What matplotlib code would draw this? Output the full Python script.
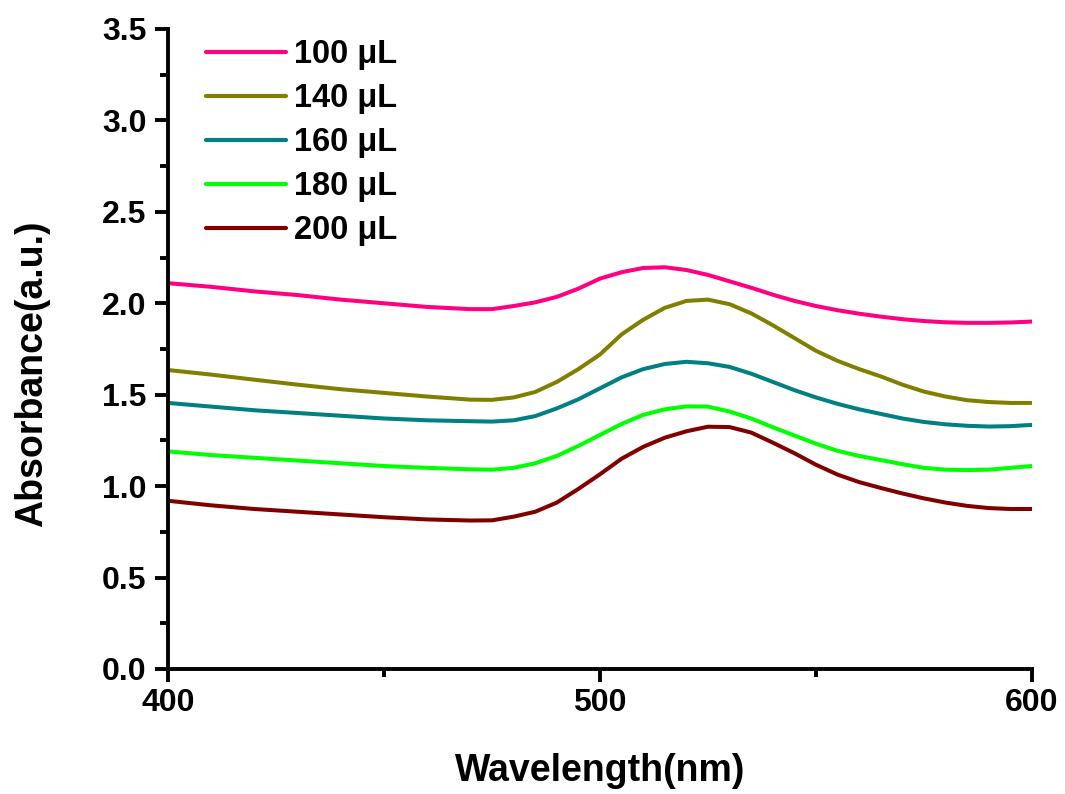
import matplotlib
matplotlib.use("Agg")
import matplotlib.pyplot as plt
from matplotlib.ticker import MultipleLocator, FormatStrFormatter

plt.rcParams['font.family'] = ['Liberation Sans', 'DejaVu Sans']
plt.rcParams['font.weight'] = 'bold'

wavelength = [400, 410, 420, 430, 440, 450, 460, 470, 475, 480, 485, 490, 495, 500,
              505, 510, 515, 520, 525, 530, 535, 540, 545, 550, 555, 560, 565, 570,
              575, 580, 585, 590, 595, 600]

abs_100 = [2.11, 2.09, 2.065, 2.045, 2.02, 2.00, 1.98, 1.968, 1.968, 1.985, 2.005, 2.035, 2.08, 2.135,
           2.17, 2.193, 2.197, 2.182, 2.155, 2.12, 2.085, 2.047, 2.013, 1.985, 1.962, 1.943, 1.927, 1.913,
           1.903, 1.896, 1.893, 1.893, 1.895, 1.90]
abs_140 = [1.635, 1.61, 1.582, 1.555, 1.53, 1.51, 1.49, 1.473, 1.472, 1.485, 1.515, 1.57, 1.64, 1.72,
           1.83, 1.91, 1.975, 2.013, 2.02, 1.995, 1.945, 1.88, 1.81, 1.74, 1.685, 1.64, 1.60, 1.555,
           1.517, 1.49, 1.47, 1.46, 1.455, 1.455]
abs_160 = [1.455, 1.435, 1.415, 1.40, 1.385, 1.37, 1.36, 1.355, 1.353, 1.36, 1.383, 1.425, 1.475, 1.535,
           1.595, 1.64, 1.668, 1.68, 1.672, 1.652, 1.615, 1.57, 1.525, 1.485, 1.45, 1.42, 1.395, 1.37,
           1.351, 1.338, 1.33, 1.326, 1.328, 1.335]
abs_180 = [1.19, 1.17, 1.155, 1.14, 1.125, 1.11, 1.10, 1.092, 1.09, 1.10, 1.125, 1.165, 1.22, 1.28,
           1.34, 1.39, 1.42, 1.436, 1.435, 1.408, 1.37, 1.322, 1.277, 1.232, 1.193, 1.165, 1.143, 1.12,
           1.10, 1.09, 1.088, 1.09, 1.10, 1.11]
abs_200 = [0.92, 0.895, 0.875, 0.86, 0.845, 0.83, 0.818, 0.812, 0.813, 0.833, 0.86, 0.91, 0.985, 1.065,
           1.15, 1.215, 1.265, 1.30, 1.325, 1.323, 1.293, 1.238, 1.18, 1.117, 1.063, 1.022, 0.99, 0.96,
           0.933, 0.91, 0.892, 0.88, 0.875, 0.875]

labels = ['100 μL', '140 μL', '160 μL', '180 μL', '200 μL']
series = [abs_100, abs_140, abs_160, abs_180, abs_200]
colors = ['#FF0080', '#808000', '#008080', '#00FF00', '#800000']

fig = plt.figure(figsize=(10.65, 7.94), dpi=100)
ax = fig.add_axes([168/1065, 1-669/794, (1032-168)/1065, (669-29)/794])

for ys, lab, c in zip(series, labels, colors):
    ax.plot(wavelength, ys, color=c, lw=2.9, label=lab,
            solid_capstyle='round', solid_joinstyle='round')

ax.set_xlim(400, 600)
ax.set_ylim(0, 3.5)
ax.xaxis.set_major_locator(MultipleLocator(100))
ax.xaxis.set_minor_locator(MultipleLocator(50))
ax.yaxis.set_major_locator(MultipleLocator(0.5))
ax.yaxis.set_minor_locator(MultipleLocator(0.25))
ax.yaxis.set_major_formatter(FormatStrFormatter('%.1f'))

for s in ['top', 'right']:
    ax.spines[s].set_visible(False)
for s in ['left', 'bottom']:
    ax.spines[s].set_linewidth(2.8)
    ax.spines[s].set_capstyle('projecting')

ax.tick_params(which='major', direction='out', length=9.5, width=2.8, labelsize=23)
ax.tick_params(axis='y', which='major', pad=6)
ax.tick_params(axis='x', which='major', pad=4)
ax.tick_params(which='minor', direction='out', length=5.5, width=2.8)
for t in ax.get_xticklabels() + ax.get_yticklabels():
    t.set_fontweight('bold')

ax.set_xlabel('Wavelength(nm)', fontsize=27, fontweight='bold')
ax.set_ylabel('Absorbance(a.u.)', fontsize=27, fontweight='bold')
ax.xaxis.set_label_coords(0.5, -0.132)
ax.yaxis.set_label_coords(-0.1366, 0.462)

leg = ax.legend(loc='upper left', bbox_to_anchor=(0.029, 1.0046), frameon=False,
                fontsize=23.5, handlelength=2.45, handletextpad=0.25, labelspacing=0.4,
                borderaxespad=0)
for t in leg.get_texts():
    t.set_fontweight('bold')
for l in leg.get_lines():
    l.set_linewidth(3.0)

fig.savefig('out.png', dpi=100)
